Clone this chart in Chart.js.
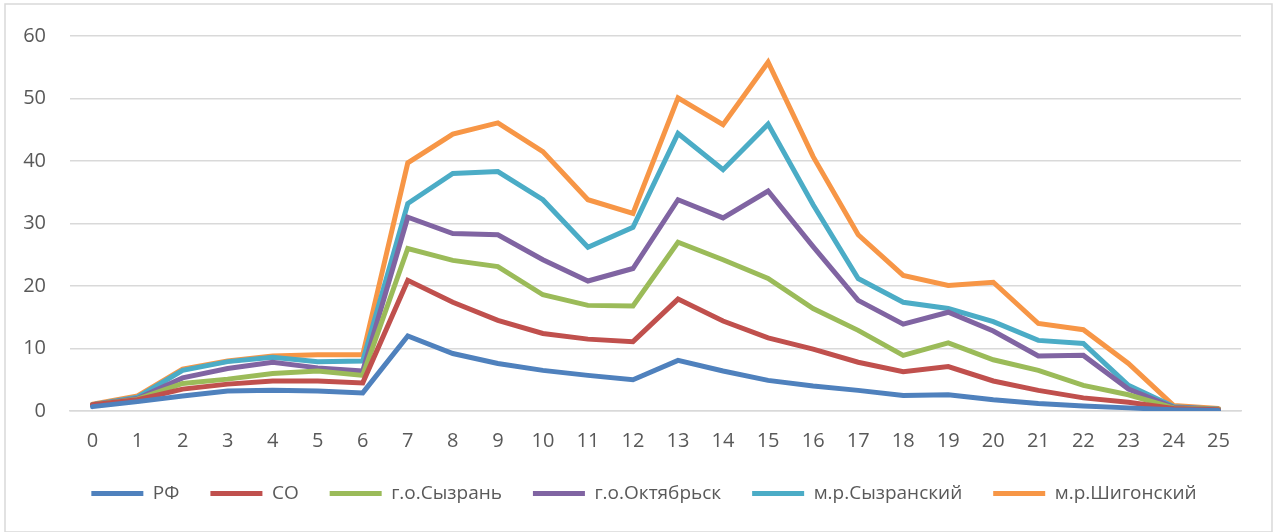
<!DOCTYPE html>
<html>
<head>
<meta charset="utf-8">
<script src="https://cdn.jsdelivr.net/npm/chart.js@4/dist/chart.umd.min.js"></script>
<style>
  html, body { margin: 0; padding: 0; background: #fff; }
  #wrap { width: 1277px; height: 532px; }
</style>
</head>
<body>
<div id="wrap"><canvas id="chart" width="1277" height="532"></canvas></div>
<script>
// категории по оси X
const hours = ['0','1','2','3','4','5','6','7','8','9','10','11','12','13','14','15','16','17','18','19','20','21','22','23','24','25'];

// значения рядов
const rf        = [0.7, 1.5, 2.4, 3.2, 3.3, 3.2, 2.9, 12.0, 9.2, 7.6, 6.5, 5.7, 5.0, 8.1, 6.4, 4.9, 4.0, 3.3, 2.5, 2.6, 1.8, 1.2, 0.8, 0.5, 0.2, 0.1];
const co        = [1.0, 1.8, 3.5, 4.3, 4.8, 4.8, 4.5, 20.9, 17.4, 14.5, 12.4, 11.5, 11.1, 17.9, 14.4, 11.7, 9.9, 7.8, 6.3, 7.1, 4.8, 3.3, 2.1, 1.4, 0.4, 0.2];
const syzran    = [1.0, 1.9, 4.4, 5.1, 6.0, 6.4, 5.7, 26.0, 24.1, 23.1, 18.6, 16.9, 16.8, 27.0, 24.2, 21.2, 16.4, 12.9, 8.9, 10.9, 8.2, 6.5, 4.1, 2.6, 0.5, 0.3];
const oktyabrsk = [1.0, 2.0, 5.3, 6.8, 7.8, 6.9, 6.4, 31.0, 28.4, 28.2, 24.2, 20.8, 22.8, 33.8, 30.9, 35.2, 26.3, 17.7, 13.9, 15.8, 12.8, 8.8, 8.9, 3.5, 0.6, 0.3];
const syzranMr  = [1.0, 2.2, 6.5, 7.9, 8.6, 7.9, 8.0, 33.2, 38.0, 38.3, 33.8, 26.2, 29.4, 44.4, 38.6, 45.9, 33.0, 21.2, 17.4, 16.4, 14.3, 11.3, 10.8, 4.1, 0.7, 0.3];
const shigony   = [1.1, 2.4, 6.7, 8.0, 8.8, 9.0, 9.0, 39.7, 44.3, 46.1, 41.5, 33.8, 31.6, 50.1, 45.8, 55.8, 40.7, 28.2, 21.7, 20.1, 20.6, 14.0, 13.0, 7.6, 0.9, 0.4];

// подписи рядов
const seriesNames = ['РФ', 'СО', 'г.о.Сызрань', 'г.о.Октябрьск', 'м.р.Сызранский', 'м.р.Шигонский'];
const seriesData = [rf, co, syzran, oktyabrsk, syzranMr, shigony];
const seriesColors = ['#4f81bd', '#c0504d', '#9bbb59', '#8064a2', '#4bacc6', '#f79646'];

const FONT = '"Open Sans", "DejaVu Sans", sans-serif';
const TEXT_COLOR = '#595959';
const GRID_COLOR = '#d9d9d9';

// рамка вокруг всей диаграммы
const borderPlugin = {
    id: 'outerBorder',
    beforeDraw: function(chart) {
        const ctx = chart.ctx;
        ctx.save();
        ctx.fillStyle = '#ffffff';
        ctx.fillRect(0, 0, chart.width, chart.height);
        ctx.strokeStyle = GRID_COLOR;
        ctx.lineWidth = 1.5;
        ctx.strokeRect(5, 4, chart.width - 10, chart.height - 4);
        ctx.restore();
    }
};

const datasets = seriesNames.map((name, i) => ({
    label: name,
    data: seriesData[i],
    borderColor: seriesColors[i],
    backgroundColor: seriesColors[i],
    borderWidth: 5,
    borderCapStyle: 'round',
    borderJoinStyle: 'miter',
    pointRadius: 0,
    pointHoverRadius: 0,
    tension: 0,
    fill: false
}));

new Chart(document.getElementById('chart'), {
    type: 'line',
    data: { labels: hours, datasets: datasets },
    plugins: [borderPlugin],
    options: {
        responsive: false,
        animation: false,
        devicePixelRatio: 1,
        layout: { padding: { left: 11, right: 0, top: 23, bottom: 19 } },
        plugins: {
            tooltip: { enabled: false },
            legend: {
                position: 'bottom',
                labels: {
                    usePointStyle: true,
                    pointStyle: 'line',
                    pointStyleWidth: 52,
                    boxHeight: 8,
                    padding: 31,
                    color: TEXT_COLOR,
                    font: { family: FONT, size: 19 }
                }
            }
        },
        scales: {
            x: {
                offset: true,
                grid: { display: false, drawTicks: false },
                border: { display: true, color: GRID_COLOR, width: 1.5 },
                ticks: { color: TEXT_COLOR, font: { family: FONT, size: 20 }, padding: 18, maxRotation: 0 },
                // ось X чуть ниже — ужимаем её высоту
                afterFit: function(scale) { scale.height = scale.height - 18; }
            },
            y: {
                min: 0,
                max: 60,
                ticks: { stepSize: 10, color: TEXT_COLOR, font: { family: FONT, size: 20 }, padding: 24 },
                grid: { color: GRID_COLOR, lineWidth: 1.5, drawTicks: false },
                border: { display: false },
                afterFit: function(scale) { scale.width = 59; }
            },
            // пустая правая ось — только отступ справа
            yRight: {
                position: 'right',
                display: true,
                grid: { display: false, drawTicks: false },
                border: { display: false },
                ticks: { display: false },
                afterFit: function(scale) { scale.width = 36; }
            }
        }
    }
});
</script>
</body>
</html>
